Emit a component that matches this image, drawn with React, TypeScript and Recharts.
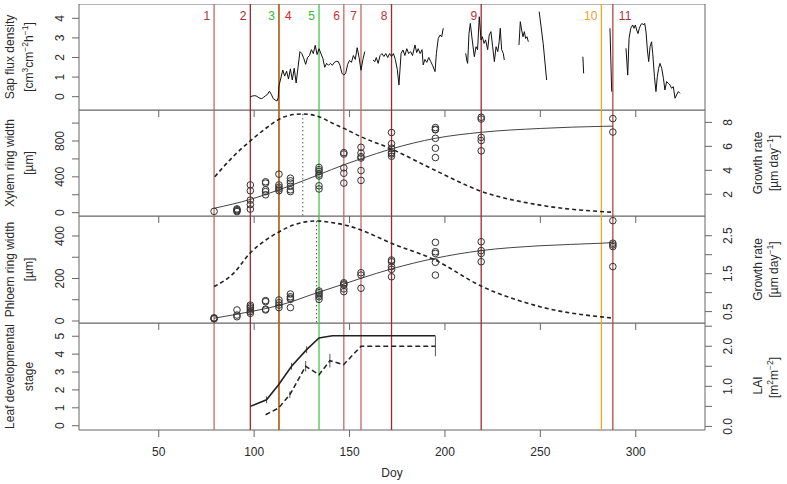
import React from "react"
import {
  ComposedChart,
  Line,
  Scatter,
  XAxis,
  YAxis,
  ReferenceLine,
  ReferenceArea,
  ErrorBar,
} from "recharts"

const FONT = '"Liberation Sans", Arial, Helvetica, sans-serif'
const AXIS = "#666666"
const INK = "#2a2a2a"

// ---- data ----
const doyTicks = [50, 100, 150, 200, 250, 300]
const doyDomain: [number, number] = [8.2, 336.3]

const eventDoy = [79, 98, 113, 113, 134, 147, 156, 172, 219, 282, 288]
const eventLabels = ["1", "2", "3", "4", "5", "6", "7", "8", "9", "10", "11"]

// sap flux density, [doy, value]; null marks a gap in the record
const sapFlux: [number, number | null][] = [
  [98, 0.0], [99, 0.03], [100, 0.05], [101, 0.04], [102, -0.02], [103, -0.08],
  [104, -0.1], [105, -0.03], [106, 0.05], [107, 0.12], [108, 0.28], [109, 0.12],
  [110, -0.1], [111, -0.17], [112, -0.22], [112.6, -0.05], [113, 0.55], [114, 0.95],
  [115, 1.36], [116, 1.05], [117, 1.3], [118, 0.9], [119, 1.42], [120, 0.85],
  [121, 1.45], [122, 0.7], [123, 1.5], [124, 2.3], [125, 2.2], [126, 1.95],
  [127, 1.65], [128, 2.0], [129, 2.1], [130, 2.4], [131, 2.2], [132, 2.62],
  [133, 2.15], [134, 2.45], [135, 2.2], [136, 1.95], [137, 1.5], [138, 1.7],
  [139, 1.6], [140, 1.7], [141, 1.6], [142, 1.75], [143, 1.8], [144, 1.8],
  [145, 1.6], [146, 1.2], [147, 1.1], [148, 1.2], [149, 1.65], [150, 1.85],
  [151, 1.75], [152, 2.1], [153, 1.9], [154, 2.5], [155, 2.0], [156, 1.35],
  [157, 1.9], [158, 2.3], [160, null],
  [162.3, 1.87], [163.3, 1.79], [164, 2.0], [165, 1.7], [166, 2.1], [167, 2.2],
  [168, 2.05], [169, 2.2], [170, 2.0], [171, 2.2], [172, 2.05], [173, 2.2],
  [174, 1.9], [175, 1.4], [175.9, 0.6], [177, 2.2], [178, 2.38], [179, 2.1],
  [180, 2.45], [181, 2.2], [182, 2.3], [183, 2.1], [184.3, 2.64], [185.2, 2.25],
  [186, 2.45], [187, 2.2], [188, 2.4], [188.6, 1.62], [189.5, 1.9], [190.5, 1.75],
  [191.5, 2.0], [192.5, 1.8], [193.5, 1.6], [194.8, 1.28], [195.5, 2.2],
  [196.5, 2.98], [197.5, 3.15], [198.3, 3.05], [199.1, 3.49], [205, null],
  [210.9, 2.21], [211.4, 1.87], [211.9, 1.7], [212.6, 3.23], [213.3, 3.74],
  [214.3, 2.89], [215.4, 2.04], [216.3, 2.55], [217.1, 2.4], [218, 4.08],
  [218.9, 2.9], [219.6, 3.06], [220.5, 2.72], [221.3, 2.9], [222.4, 2.4],
  [223.2, 3.15], [224.1, 3.32], [225, 2.55], [225.9, 1.79], [226.8, 2.55],
  [227.7, 2.3], [228.4, 2.8], [229, 3.49], [229.7, 2.4], [230.6, 2.2],
  [231.1, 1.87], [235, null],
  [238.8, 2.64], [239.5, 3.83], [240.2, 3.4], [240.9, 3.06], [241.6, 3.32],
  [242.3, 2.97], [243, 3.06], [243.7, 2.81], [246, null],
  [249.4, 4.34], [251.5, 2.7], [253.3, 0.85], [262, null],
  [272.3, 2.04], [272.7, 1.19], [280, null],
  [286.5, 3.49], [287.4, 0.26], [291, null],
  [294.9, 2.47], [295.8, 1.1], [296.5, 2.98], [297.4, 3.49], [298.4, 3.66],
  [299.1, 3.49], [299.8, 3.66], [300.5, 3.4], [301.2, 3.22], [301.9, 3.49],
  [302.6, 3.66], [303.3, 3.74], [304, 3.66], [304.7, 3.74], [305.4, 3.3],
  [306.1, 2.38], [306.8, 1.79], [307.5, 2.55], [308.3, 2.8], [308.9, 2.21],
  [309.8, 1.02], [310.6, 0.26], [311.3, 1.02], [312, 1.45], [312.7, 1.7],
  [313.6, 1.45], [314.5, 0.94], [315.3, 0.34], [316.2, 0.77], [317.1, 0.68],
  [317.9, 0.6], [318.8, 0.43], [319.7, 0.51], [320.6, -0.08], [321.4, 0.09],
  [322.3, 0.26], [323.2, 0.17],
]

// xylem ring width samples, [doy, widths]
const xylemSamples: [number, number[]][] = [
  [79, [15]],
  [91, [12, 22, 32, 42]],
  [98, [310, 245, 140, 90, 40]],
  [106, [345, 330, 255, 235, 200]],
  [113, [430, 310, 285, 265, 245]],
  [119, [385, 355, 330, 295, 255, 235]],
  [134, [505, 480, 460, 430, 410, 300, 265]],
  [147, [670, 655, 500, 440, 330]],
  [156, [730, 665, 625, 610, 470, 360]],
  [172, [895, 770, 720, 670, 655, 630]],
  [195, [950, 930, 925, 830, 720, 615]],
  [219, [1065, 1045, 840, 805, 690]],
  [288, [1050, 900]],
]
const xylemFit: [number, number][] = [
  [79, 49], [98, 148], [113, 255], [134, 425], [147, 534], [156, 602],
  [172, 712], [195, 830], [219, 897], [250, 940], [283, 964], [288, 966],
]
const xylemRate: [number, number][] = [
  [79.4, 3.47], [89, 5.15], [98, 6.45], [106.5, 7.55], [113, 8.25], [120.5, 8.65],
  [125.5, 8.7], [134, 8.47], [141.4, 7.9], [147, 7.5], [156, 6.8], [171.7, 5.8],
  [194.8, 4.0], [218.7, 2.27], [249.8, 1.1], [288, 0.5],
]
const xylemPeak: [number, number] = [125.5, 8.7]

const phloemSamples: [number, number[]][] = [
  [79, [15, 10, 12]],
  [91, [52, 28, 20]],
  [98, [75, 67, 60, 52, 44, 36]],
  [106, [96, 91, 56, 52]],
  [113, [99, 86, 75, 63]],
  [119, [127, 114, 107, 102, 63]],
  [134, [141, 133, 122, 114, 102]],
  [147, [180, 174, 169, 151, 138]],
  [156, [227, 216, 154]],
  [172, [287, 279, 256, 243, 208]],
  [195, [370, 326, 318, 276, 216]],
  [219, [373, 331, 318, 279]],
  [288, [472, 366, 358, 350, 256]],
]
const phloemFit: [number, number][] = [
  [79, 13], [98, 44], [113, 73], [134, 136], [147, 174], [156, 201],
  [172, 245], [194.8, 295], [218.7, 331], [249.8, 354], [282, 366], [288, 369],
]
const phloemRate: [number, number][] = [
  [79, 1.16], [89, 1.5], [98, 2.05], [106.5, 2.4], [113, 2.6], [120.5, 2.78],
  [132.7, 2.89], [141.4, 2.84], [149.3, 2.76], [156, 2.65], [172, 2.3],
  [194.8, 1.86], [218.7, 1.18], [249.8, 0.63], [288, 0.33],
]
const phloemPeak: [number, number] = [132.7, 2.89]

// [doy, value, error]
const leafStage: [number, number, number][] = [
  [98, 1.08, 0], [106.5, 1.45, 0.19], [112.8, 2.29, 0], [119.6, 3.32, 0.19],
  [127.5, 4.25, 0.19], [134, 4.9, 0], [141, 5.03, 0], [195, 5.03, 0],
]
const lai: [number, number, number][] = [
  [106, 0.29, 0], [112.8, 0.46, 0], [118.7, 0.79, 0.08], [127, 1.5, 0.13],
  [134, 1.29, 0], [139.7, 1.64, 0.17], [146.9, 1.54, 0], [156, 2.0, 0],
  [195, 2.0, 0.25],
]

// ---- styles for the event markers ----
const eventLineColors = [
  "#c46a66", "#a8262a", "#b8651b", "#b8651b", "#45c845", "#c46a66",
  "#c46a66", "#a8262a", "#a8262a", "#f5a623", "#b5484a",
]
const eventTextColors = [
  "#b23a36", "#a82828", "#33bb33", "#e02424", "#33bb33", "#c03232",
  "#c03232", "#c03232", "#c03232", "#f0a030", "#a83232",
]
const eventLabelRight = [false, false, false, true, false, false, false, false, false, false, true]

const flatten = (s: [number, number[]][]) =>
  s.flatMap(([doy, vals]) => vals.map((v) => ({ doy, v })))
const pairs = (s: [number, number | null][]) => s.map(([doy, v]) => ({ doy, v }))
const triples = (s: [number, number, number][]) => s.map(([doy, v, e]) => ({ doy, v, e }))

const sapData = pairs(sapFlux)
const xylemPts = flatten(xylemSamples)
const phloemPts = flatten(phloemSamples)

const blankTick = () => <g />

const leftTick = (shown: number[] | null, fmt: (v: number) => string = String) => (p: any) => {
  const v = p.payload.value
  if (shown && !shown.includes(v)) return <g />
  const cx = p.x - 10
  return (
    <text x={cx} y={p.y} dy="0.35em" transform={`rotate(-90 ${cx} ${p.y})`}
      textAnchor="middle" fontSize={12} fontFamily={FONT} fill={INK}>{fmt(v)}</text>
  )
}

const rightTick = (shown: number[] | null, fmt: (v: number) => string = String) => (p: any) => {
  const v = p.payload.value
  if (shown && !shown.includes(v)) return <g />
  const cx = p.x + 14
  return (
    <text x={cx} y={p.y} dy="0.35em" transform={`rotate(-90 ${cx} ${p.y})`}
      textAnchor="middle" fontSize={12} fontFamily={FONT} fill={INK}>{fmt(v)}</text>
  )
}

const sup = (s: string) => [
  <tspan key={s + "a"} dy={-5} fontSize={8.5}>{s}</tspan>,
]

const vText = (x: number, y: number, content: React.ReactNode) => (
  <text x={x} y={y} dy="0.35em" transform={`rotate(-90 ${x} ${y})`}
    textAnchor="middle" fontSize={12} fontFamily={FONT} fill={INK}>{content}</text>
)

const title = (x1: number, x2: number, l1: React.ReactNode, l2: React.ReactNode, shift1 = 0, shift2 = 0) =>
  (p: any) => {
    const vb = p.viewBox
    const cy = vb.y + vb.height / 2
    return (
      <g>
        {vText(x1, cy + shift1, l1)}
        {vText(x2, cy + shift2, l2)}
      </g>
    )
  }

const eventLines = (yAxisId: string, withLabels: boolean) =>
  eventDoy.map((d, i) => (
    <ReferenceLine
      key={"ev" + i}
      x={d}
      yAxisId={yAxisId}
      stroke={eventLineColors[i]}
      strokeWidth={1.3}
      label={
        withLabels
          ? (p: any) => {
              const vb = p.viewBox
              const right = eventLabelRight[i]
              return (
                <text x={right ? vb.x + 6 : vb.x - 4} y={vb.y + 15.5}
                  textAnchor={right ? "start" : "end"} fontSize={12}
                  fontFamily={FONT} fill={eventTextColors[i]}>{eventLabels[i]}</text>
              )
            }
          : undefined
      }
    />
  ))

const box = (yAxisId: string, lo: number, hi: number) => (
  <ReferenceArea yAxisId={yAxisId} x1={doyDomain[0]} x2={doyDomain[1]} y1={lo} y2={hi}
    fill="none" fillOpacity={0} stroke={AXIS} strokeWidth={1} ifOverflow="visible" />
)

const ring = (p: any) => (
  <circle cx={p.cx} cy={p.cy} r={3.3} fill="none" stroke="#333" strokeWidth={1} />
)

const xAxisHidden = (
  <XAxis type="number" dataKey="doy" domain={doyDomain} ticks={doyTicks} interval={0}
    allowDataOverflow height={8} tickSize={7} axisLine={false}
    tickLine={{ stroke: AXIS }} tick={blankTick} />
)

const umDay = ["[µm day", ...sup("−1"), <tspan key="c" dy={5}>]</tspan>]

export default function App() {
  return (
    <div style={{ position: "absolute", left: 0, top: 0, width: 787, height: 484, background: "#fff" }}>
      {/* sap flux */}
      <div style={{ position: "absolute", left: 0, top: 4 }}>
        <ComposedChart width={787} height={114} margin={{ top: 0, right: 82, bottom: 0, left: 39 }}>
          {xAxisHidden}
          <YAxis yAxisId="l" type="number" domain={[-0.68, 4.73]} ticks={[0, 1, 2, 3, 4]}
            interval={0} allowDataOverflow width={40} tickSize={7} tickMargin={2}
            axisLine={false} tickLine={{ stroke: AXIS }} tick={leftTick(null)}
            label={title(10, 29, "Sap flux density",
              ["[cm", ...sup("3"), <tspan key="a" dy={5}>cm</tspan>, <tspan key="b" dy={-5} fontSize={8.5}>−2</tspan>,
                <tspan key="c" dy={5}>h</tspan>, <tspan key="d" dy={-5} fontSize={8.5}>−1</tspan>,
                <tspan key="e" dy={5}>]</tspan>])} />
          {box("l", -0.68, 4.73)}
          {eventLines("l", true)}
          <Line yAxisId="l" data={sapData} dataKey="v" type="linear" stroke="#111"
            strokeWidth={1} dot={false} connectNulls={false} isAnimationActive={false} />
        </ComposedChart>
      </div>

      {/* xylem */}
      <div style={{ position: "absolute", left: 0, top: 110 }}>
        <ComposedChart width={787} height={114} margin={{ top: 0, right: 42, bottom: 0, left: 39 }}>
          {xAxisHidden}
          <YAxis yAxisId="l" type="number" domain={[-37, 1146]} ticks={[0, 200, 400, 600, 800, 1000]}
            interval={0} allowDataOverflow width={40} tickSize={7} tickMargin={2}
            axisLine={false} tickLine={{ stroke: AXIS }} tick={leftTick([0, 400, 800])}
            label={title(10, 29, "Xylem ring width", "[µm]")} />
          <YAxis yAxisId="r" orientation="right" type="number" domain={[0.19, 9.03]} ticks={[2, 4, 6, 8]}
            interval={0} allowDataOverflow width={40} tickSize={7} tickMargin={2}
            axisLine={false} tickLine={{ stroke: AXIS }} tick={rightTick(null)}
            label={title(758, 774, "Growth rate", umDay)} />
          {box("l", -37, 1146)}
          {eventLines("l", false)}
          <ReferenceLine yAxisId="r" segment={[{ x: xylemPeak[0], y: xylemPeak[1] }, { x: xylemPeak[0], y: 0.19 }]}
            stroke="#555" strokeDasharray="1.5 2.5" strokeWidth={1} />
          <Line yAxisId="l" data={pairs(xylemFit)} dataKey="v" type="monotone" stroke="#444"
            strokeWidth={1} dot={false} isAnimationActive={false} />
          <Line yAxisId="r" data={pairs(xylemRate)} dataKey="v" type="monotone" stroke="#222"
            strokeWidth={1.6} strokeDasharray="4 3" dot={false} isAnimationActive={false} />
          <Scatter yAxisId="l" data={xylemPts} dataKey="v" shape={ring} isAnimationActive={false} />
        </ComposedChart>
      </div>

      {/* phloem */}
      <div style={{ position: "absolute", left: 0, top: 216 }}>
        <ComposedChart width={787} height={115} margin={{ top: 0, right: 42, bottom: 0, left: 39 }}>
          {xAxisHidden}
          <YAxis yAxisId="l" type="number" domain={[-9.4, 494]} ticks={[0, 100, 200, 300, 400]}
            interval={0} allowDataOverflow width={40} tickSize={7} tickMargin={2}
            axisLine={false} tickLine={{ stroke: AXIS }} tick={leftTick([0, 200, 400])}
            label={title(10, 29, "Phloem ring width", "[µm]")} />
          <YAxis yAxisId="r" orientation="right" type="number" domain={[0.2, 3.02]} ticks={[0.5, 1, 1.5, 2, 2.5]}
            interval={0} allowDataOverflow width={40} tickSize={7} tickMargin={2}
            axisLine={false} tickLine={{ stroke: AXIS }} tick={rightTick([0.5, 1.5, 2.5])}
            label={title(758, 774, "Growth rate", umDay)} />
          {box("l", -9.4, 494)}
          {eventLines("l", false)}
          <ReferenceLine yAxisId="r" segment={[{ x: phloemPeak[0], y: phloemPeak[1] }, { x: phloemPeak[0], y: 0.2 }]}
            stroke="#555" strokeDasharray="1.5 2.5" strokeWidth={1} />
          <Line yAxisId="l" data={pairs(phloemFit)} dataKey="v" type="monotone" stroke="#444"
            strokeWidth={1} dot={false} isAnimationActive={false} />
          <Line yAxisId="r" data={pairs(phloemRate)} dataKey="v" type="monotone" stroke="#222"
            strokeWidth={1.6} strokeDasharray="4 3" dot={false} isAnimationActive={false} />
          <Scatter yAxisId="l" data={phloemPts} dataKey="v" shape={ring} isAnimationActive={false} />
        </ComposedChart>
      </div>

      {/* leaf development / LAI */}
      <div style={{ position: "absolute", left: 0, top: 323 }}>
        <ComposedChart width={787} height={161} margin={{ top: 0, right: 42, bottom: 0, left: 39 }}>
          <XAxis type="number" dataKey="doy" domain={doyDomain} ticks={doyTicks} interval={0}
            allowDataOverflow height={54} tickSize={7} tickMargin={10} axisLine={false}
            tickLine={{ stroke: AXIS }}
            tick={(p: any) => (
              <text x={p.x} y={p.y} dy="0.71em" textAnchor="middle" fontSize={12}
                fontFamily={FONT} fill={INK}>{p.payload.value}</text>
            )}
            label={(p: any) => {
              const vb = p.viewBox
              return (
                <text x={vb.x + vb.width / 2} y={vb.y + 47} textAnchor="middle" fontSize={12}
                  fontFamily={FONT} fill={INK}>Doy</text>
              )
            }} />
          <YAxis yAxisId="l" type="number" domain={[-0.24, 5.74]} ticks={[0, 1, 2, 3, 4, 5]}
            interval={0} allowDataOverflow width={40} tickSize={7} tickMargin={2}
            axisLine={false} tickLine={{ stroke: AXIS }} tick={leftTick(null)}
            label={title(10, 29, "Leaf developmental", "stage")} />
          <YAxis yAxisId="r" orientation="right" type="number" domain={[-0.09, 2.58]}
            ticks={[0, 0.5, 1, 1.5, 2, 2.5]} interval={0} allowDataOverflow width={40}
            tickSize={7} tickMargin={2} axisLine={false} tickLine={{ stroke: AXIS }}
            tick={rightTick([0, 1, 2], (v) => v.toFixed(1))}
            label={title(758, 774, "LAI",
              ["[m", ...sup("2"), <tspan key="a" dy={5}>m</tspan>, <tspan key="b" dy={-5} fontSize={8.5}>−2</tspan>,
                <tspan key="c" dy={5}>]</tspan>], 9, 1)} />
          {box("l", -0.24, 5.74)}
          {eventLines("l", false)}
          <Line yAxisId="l" data={triples(leafStage)} dataKey="v" type="linear" stroke="#222"
            strokeWidth={1.6} dot={false} isAnimationActive={false}>
            <ErrorBar dataKey="e" width={0} stroke="#555" strokeWidth={1} direction="y" />
          </Line>
          <Line yAxisId="r" data={triples(lai)} dataKey="v" type="linear" stroke="#222"
            strokeWidth={1.5} strokeDasharray="5 3" dot={false} isAnimationActive={false}>
            <ErrorBar dataKey="e" width={0} stroke="#555" strokeWidth={1} direction="y" />
          </Line>
        </ComposedChart>
      </div>
    </div>
  )
}
